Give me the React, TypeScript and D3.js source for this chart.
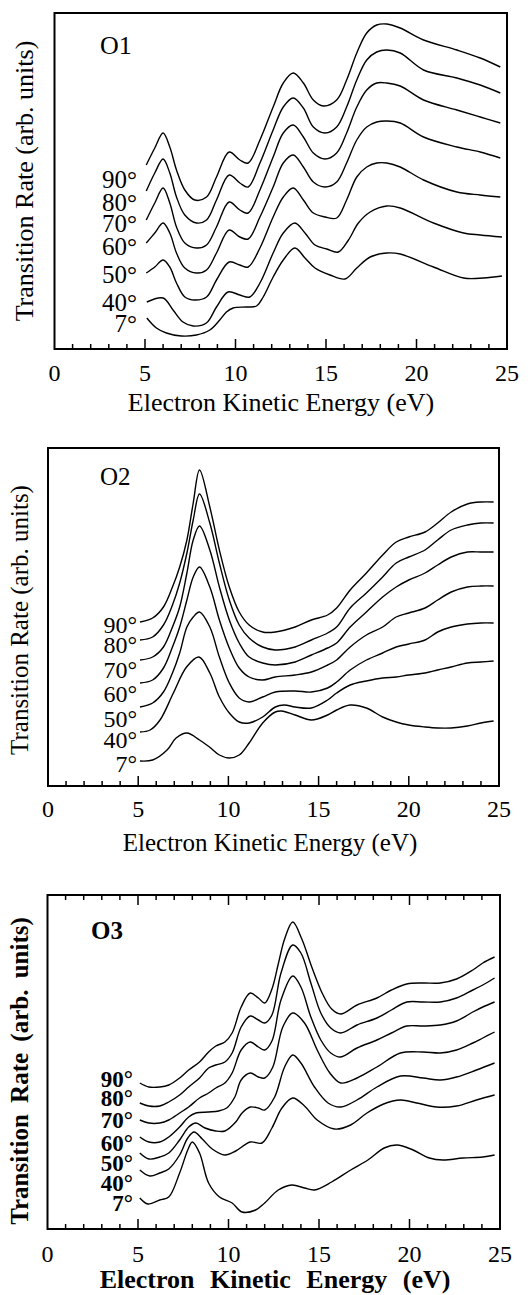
import React from 'react'
import * as d3 from 'd3'

type Pt = [number, number]

const angleLabels = ['90°', '80°', '70°', '60°', '50°', '40°', '7°']
const tickLabels = [0, 5, 10, 15, 20, 25]

// O1: [electron kinetic energy (eV), transition rate (arb. units)]
const o1_90: Pt[] = [[5.07,184],[5.54,201],[6.0,216],[6.37,202],[6.74,179],[7.2,159],[7.75,149],[8.4,152],[8.95,172],[9.65,197],[10.24,189],[10.7,186],[11.35,209],[12.08,242],[12.64,266],[13.19,276],[13.75,266],[14.3,249],[14.85,243],[15.59,249],[16.14,269],[16.7,296],[17.25,316],[17.8,324],[18.36,325],[19.1,321],[20.39,309],[22.23,299],[23.52,291],[24.63,282]]
const o1_80: Pt[] = [[5.07,158],[5.54,176],[6.0,190],[6.37,176],[6.74,152],[7.2,134],[7.85,126],[8.4,129],[8.95,149],[9.65,174],[10.24,166],[10.7,162],[11.35,186],[12.08,219],[12.64,242],[13.19,251],[13.75,241],[14.3,222],[14.95,216],[15.59,222],[16.14,242],[16.7,269],[17.25,289],[17.8,297],[18.36,299],[19.1,296],[20.39,279],[22.23,271],[23.52,264],[24.63,256]]
const o1_70: Pt[] = [[5.07,129],[5.54,146],[6.0,161],[6.37,146],[6.74,122],[7.2,106],[7.85,101],[8.4,104],[8.95,122],[9.65,147],[10.24,139],[10.7,136],[11.35,159],[12.08,192],[12.64,216],[13.19,224],[13.75,212],[14.3,196],[14.95,190],[15.59,196],[16.14,216],[16.7,242],[17.25,259],[17.8,266],[18.36,266],[19.1,263],[20.39,249],[22.23,239],[23.52,232],[24.63,226]]
const o1_60: Pt[] = [[5.07,106],[5.54,116],[6.0,126],[6.37,116],[6.74,96],[7.2,81],[7.85,76],[8.4,79],[8.95,96],[9.65,119],[10.24,112],[10.7,110],[11.35,132],[12.08,162],[12.64,186],[13.19,194],[13.75,182],[14.3,167],[14.95,162],[15.59,167],[16.14,186],[16.7,209],[17.25,222],[17.8,227],[18.36,228],[19.1,226],[20.39,212],[22.23,202],[23.52,197],[24.63,191]]
const o1_50: Pt[] = [[5.07,76],[5.54,82],[6.0,89],[6.37,82],[6.74,66],[7.2,52],[7.75,49],[8.4,52],[8.95,69],[9.65,87],[10.24,84],[10.7,82],[11.35,101],[12.08,132],[12.64,152],[13.19,161],[13.75,149],[14.3,136],[14.95,132],[15.59,131],[16.14,149],[16.7,172],[17.25,182],[17.8,186],[18.36,186],[19.1,182],[20.39,169],[22.23,157],[23.52,154],[24.63,152]]
const o1_40: Pt[] = [[5.1,47],[6.0,51],[6.55,39],[7.1,27],[7.66,23],[8.39,26],[8.95,42],[9.59,57],[10.24,54],[10.79,52],[11.35,66],[12.08,96],[12.64,116],[13.28,126],[13.84,116],[14.39,104],[15.04,100],[15.68,97],[16.24,109],[16.79,126],[17.44,137],[18.36,143],[19.1,141],[20.94,126],[22.6,116],[23.52,114],[24.72,112]]
const o1_7: Pt[] = [[5.1,31],[5.63,21],[6.18,16],[7.01,13],[7.84,14],[8.58,19],[9.13,29],[9.5,37],[9.87,41],[10.61,42],[11.16,43],[11.53,52],[12.08,72],[12.64,89],[13.28,101],[13.84,91],[14.39,81],[15.22,74],[16.05,70],[16.7,81],[17.44,92],[18.36,96],[19.1,95],[20.94,82],[22.6,71],[23.7,71],[24.72,73]]

// O2
const o2_90: Pt[] = [[5.1,164],[5.8,168],[6.4,179],[6.9,199],[7.3,219],[7.7,246],[8.05,283],[8.4,316],[8.97,279],[9.5,236],[10.05,199],[10.6,174],[11.15,161],[11.9,154],[12.6,154],[13.7,159],[14.6,166],[15.5,171],[16.0,178],[16.75,196],[17.65,213],[18.55,231],[19.3,244],[20.0,249],[20.9,254],[21.6,263],[22.35,274],[23.25,282],[24.0,284],[24.7,284]]
const o2_80: Pt[] = [[5.1,146],[5.8,149],[6.4,161],[6.9,181],[7.3,203],[7.7,233],[8.05,266],[8.4,292],[8.97,263],[9.5,223],[10.05,186],[10.6,161],[11.15,148],[11.9,139],[12.6,136],[13.7,139],[14.6,146],[15.5,153],[16.0,159],[16.75,178],[17.65,193],[18.55,209],[19.3,223],[20.0,229],[20.9,236],[21.6,246],[22.35,256],[23.25,261],[24.0,263],[24.7,263]]
const o2_70: Pt[] = [[5.1,126],[5.8,129],[6.4,139],[6.9,159],[7.3,179],[7.7,213],[8.05,246],[8.4,260],[8.97,236],[9.5,199],[10.05,166],[10.6,143],[11.15,129],[11.9,123],[12.6,121],[13.7,124],[14.6,131],[15.5,138],[16.0,143],[16.75,159],[17.65,174],[18.55,189],[19.3,199],[20.0,206],[20.9,213],[21.6,221],[22.35,229],[23.25,234],[24.0,234],[24.7,234]]
const o2_60: Pt[] = [[5.1,103],[5.8,106],[6.4,118],[6.9,139],[7.3,159],[7.7,186],[8.05,209],[8.4,219],[8.97,199],[9.5,166],[10.05,138],[10.6,118],[11.15,109],[11.9,106],[12.6,109],[13.7,111],[14.6,114],[15.5,121],[16.0,126],[16.75,139],[17.65,151],[18.55,159],[19.3,169],[20.0,173],[20.9,178],[21.6,186],[22.35,194],[23.25,199],[24.0,200],[24.7,200]]
const o2_50: Pt[] = [[5.1,79],[5.8,83],[6.4,94],[6.9,113],[7.3,133],[7.7,159],[8.05,169],[8.4,174],[8.97,159],[9.5,129],[10.05,103],[10.6,88],[11.15,84],[11.9,89],[12.6,94],[13.7,95],[14.6,94],[15.5,98],[16.0,104],[16.75,116],[17.65,126],[18.55,133],[19.3,139],[20.0,142],[20.9,146],[21.6,154],[22.35,159],[23.25,162],[24.0,163],[24.7,163]]
const o2_40: Pt[] = [[5.1,54],[5.66,56],[6.21,66],[6.95,93],[7.68,119],[8.37,129],[8.97,113],[9.5,89],[10.05,73],[10.6,64],[11.15,63],[11.9,69],[12.6,79],[13.1,81],[13.7,79],[14.6,78],[15.5,86],[16.0,93],[16.75,101],[17.65,105],[18.55,108],[19.3,109],[20.0,111],[20.9,113],[21.6,116],[22.35,119],[23.25,123],[24.0,124],[24.7,125]]
const o2_7: Pt[] = [[5.1,25],[5.8,26],[6.6,36],[7.1,48],[7.7,53],[8.4,46],[8.95,39],[9.5,31],[10.05,28],[10.6,31],[11.15,43],[11.9,63],[12.6,74],[12.95,75],[13.7,71],[14.6,66],[15.5,71],[16.0,76],[16.75,81],[17.65,78],[18.55,69],[19.3,64],[20.0,61],[20.9,59],[21.6,58],[22.35,58],[23.25,60],[24.0,63],[24.7,65]]

// O3
const o3_90: Pt[] = [[5.1,146],[5.6,142],[6.2,142],[6.7,144],[7.3,151],[7.8,159],[8.4,167],[8.9,177],[9.3,183],[9.8,187],[10.2,196],[10.7,222],[11.2,236],[11.65,231],[12.0,226],[12.4,240],[12.75,265],[13.1,290],[13.55,307],[14.05,290],[14.6,262],[15.2,235],[15.7,220],[16.2,215],[17.1,224],[18.2,231],[19.0,239],[19.85,245],[20.75,246],[21.7,246],[22.6,250],[23.5,259],[24.05,266],[24.7,272]]
const o3_80: Pt[] = [[5.1,126],[5.6,123],[6.2,123],[6.7,127],[7.3,134],[7.8,142],[8.4,151],[8.9,161],[9.3,164],[9.8,167],[10.2,176],[10.7,202],[11.2,213],[11.65,209],[12.0,206],[12.4,214],[12.9,256],[13.55,284],[14.0,276],[14.55,246],[15.1,216],[15.65,201],[16.2,196],[17.1,204],[18.2,211],[19.0,219],[19.85,227],[20.75,227],[21.7,227],[22.6,231],[23.5,239],[24.05,244],[24.7,251]]
const o3_70: Pt[] = [[5.1,109],[5.6,106],[6.2,106],[6.7,109],[7.3,116],[7.8,122],[8.4,131],[8.9,136],[9.3,141],[9.8,146],[10.2,156],[10.7,179],[11.2,187],[11.65,182],[12.0,179],[12.4,188],[12.9,229],[13.55,253],[14.0,242],[14.55,212],[15.1,189],[15.65,176],[16.2,172],[17.1,181],[18.2,189],[19.0,196],[19.85,203],[20.75,203],[21.7,204],[22.6,208],[23.5,217],[24.05,222],[24.7,227]]
const o3_60: Pt[] = [[5.1,92],[5.6,87],[6.2,87],[6.7,92],[7.3,102],[7.8,112],[8.2,116],[8.9,117],[9.45,118],[9.9,121],[10.35,132],[10.7,149],[11.2,156],[11.65,152],[12.0,151],[12.45,162],[13.0,202],[13.55,216],[14.2,206],[14.9,179],[15.6,156],[16.2,146],[17.1,151],[18.2,162],[19.5,176],[20.75,177],[21.7,176],[22.6,179],[23.5,186],[24.05,191],[24.7,197]]
const o3_50: Pt[] = [[5.1,76],[5.6,70],[6.2,72],[6.7,76],[7.3,89],[7.8,102],[8.2,106],[8.7,101],[9.3,98],[9.8,98],[10.4,107],[10.75,116],[11.2,122],[11.65,121],[12.0,119],[12.55,132],[13.1,162],[13.55,174],[14.0,166],[14.75,142],[15.5,126],[16.2,122],[17.1,129],[18.2,142],[19.5,153],[20.75,151],[21.7,149],[22.6,152],[23.7,159],[24.7,166]]
const o3_40: Pt[] = [[5.1,59],[5.65,53],[6.2,56],[6.7,60],[7.3,74],[7.75,91],[8.1,97],[8.55,90],[9.1,80],[9.8,74],[10.4,78],[11.2,87],[11.85,86],[12.4,101],[12.95,121],[13.55,131],[14.2,123],[14.9,109],[15.85,100],[16.75,104],[17.65,116],[18.57,125],[19.5,129],[20.4,126],[21.5,122],[22.6,123],[23.7,129],[24.7,134]]
const o3_7: Pt[] = [[5.1,31],[5.55,25],[6.2,29],[6.7,32],[7.3,56],[7.75,79],[8.0,87],[8.4,76],[8.9,46],[9.5,32],[10.2,26],[10.75,17],[11.5,19],[12.0,26],[12.75,39],[13.5,44],[14.2,41],[14.75,39],[15.7,47],[16.75,59],[17.7,69],[18.6,81],[19.3,84],[20.2,79],[21.1,71],[21.85,69],[22.95,71],[24.05,72],[24.7,74]]

const serif = '"Liberation Serif", "Times New Roman", serif'

const panels = [
  {
    name: 'O1', curves: [o1_90, o1_80, o1_70, o1_60, o1_50, o1_40, o1_7],
    left: 54.5, right: 507, top: 13, bottom: 349, bold: false, topTicks: false,
    titleX: 100, titleY: 54, labelRight: 137, labelY: [188, 211, 232, 255, 283, 311, 332],
    tickY: 381, xLabelX: 281, xLabelY: 411, xLabelFont: 26, yLabelX: 33, yLabelY: 181,
    font: 26, labelFont: 25, tickFont: 24,
  },
  {
    name: 'O2', curves: [o2_90, o2_80, o2_70, o2_60, o2_50, o2_40, o2_7],
    left: 48, right: 499, top: 448, bottom: 786, bold: false, topTicks: false,
    titleX: 100, titleY: 485, labelRight: 137, labelY: [633, 653, 678, 702, 727, 748, 772],
    tickY: 817, xLabelX: 270, xLabelY: 851, xLabelFont: 25, yLabelX: 28, yLabelY: 620,
    font: 25, labelFont: 24, tickFont: 24,
  },
  {
    name: 'O3', curves: [o3_90, o3_80, o3_70, o3_60, o3_50, o3_40, o3_7],
    left: 47.5, right: 500, top: 895, bottom: 1229, bold: true, topTicks: true,
    titleX: 91, titleY: 939, labelRight: 133, labelY: [1087, 1106, 1128, 1151, 1171, 1191, 1211],
    tickY: 1262, xLabelX: 275, xLabelY: 1288, xLabelFont: 26, yLabelX: 28, yLabelY: 1071,
    font: 25, labelFont: 23, tickFont: 24,
  },
]

function Panel({ p }: { p: typeof panels[number] }) {
  const x = d3.scaleLinear().domain([0, 25]).range([p.left, p.right])
  const y = d3.scaleLinear().domain([0, p.bottom - p.top]).range([p.bottom, p.top])
  const line = d3.line<Pt>()
    .x(d => x(d[0]))
    .y(d => y(d[1]))
    .curve(d3.curveCatmullRom.alpha(0.5))
  const ticks = d3.range(1, 25)
  const weight = p.bold ? 'bold' : 'normal'
  const spacing = p.bold ? '9px' : 'normal'

  return (
    <g fontFamily={serif}>
      <rect x={p.left} y={p.top} width={p.right - p.left} height={p.bottom - p.top}
        fill="none" stroke="#000" strokeWidth={2} />
      {ticks.map(t => {
        const len = t % 5 === 0 ? 10 : 5
        return (
          <g key={t}>
            <line x1={x(t)} x2={x(t)} y1={p.bottom} y2={p.bottom - len} stroke="#000" strokeWidth={1.5} />
            {p.topTicks && <line x1={x(t)} x2={x(t)} y1={p.top} y2={p.top + len} stroke="#000" strokeWidth={1.5} />}
          </g>
        )
      })}
      {tickLabels.map(t => (
        <text key={t} x={x(t)} y={p.tickY} textAnchor="middle" fontSize={p.tickFont}>{t}</text>
      ))}
      {p.curves.map((c, i) => (
        <path key={i} d={line(c) || ''} fill="none" stroke="#000" strokeWidth={1.4} />
      ))}
      {angleLabels.map((a, i) => (
        <text key={a} x={p.labelRight} y={p.labelY[i]} textAnchor="end" fontSize={p.labelFont} fontWeight={weight}>{a}</text>
      ))}
      <text x={p.titleX} y={p.titleY} fontSize={p.font} fontWeight={weight}>{p.name}</text>
      <text x={p.xLabelX} y={p.xLabelY} textAnchor="middle" fontSize={p.xLabelFont}
        fontWeight={weight} style={{ wordSpacing: spacing }}>Electron Kinetic Energy (eV)</text>
      <text transform={`translate(${p.yLabelX},${p.yLabelY}) rotate(-90)`} textAnchor="middle"
        fontSize={p.font} fontWeight={weight} style={{ wordSpacing: p.bold ? '5px' : 'normal' }}>Transition Rate (arb. units)</text>
    </g>
  )
}

export default function App() {
  return (
    <svg width={532} height={1295} style={{ position: 'absolute', left: 0, top: 0, background: '#fff' }}>
      {panels.map(p => <Panel key={p.name} p={p} />)}
    </svg>
  )
}
